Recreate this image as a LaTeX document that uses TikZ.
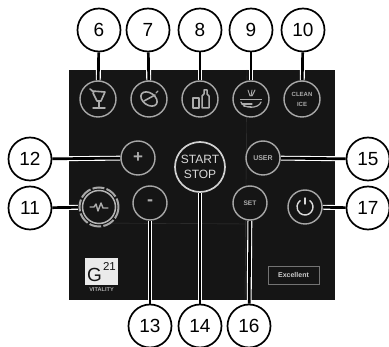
\documentclass[tikz,border=0pt]{standalone}
\usepackage{fontspec}
\setmainfont{Liberation Sans}
\pgfdeclarelayer{bgpanel}
\pgfdeclarelayer{leaders}
\pgfsetlayers{bgpanel,leaders,main}
\definecolor{panelc}{HTML}{151515}
\definecolor{ringc}{HTML}{A8A8A8}
\definecolor{iconc}{HTML}{ACACAC}
\definecolor{seamc}{HTML}{363636}
\tikzset{
  callout/.style={circle,draw=black,line width=1.7pt,fill=white,minimum size=43pt,inner sep=0pt,text=black,font=\fontsize{19}{20}\selectfont},
  btn/.style={circle,draw=ringc,line width=1.4pt,fill=panelc,minimum size=#1,inner sep=0pt,text=iconc,align=center},
  btn/.default=34pt,
  lead/.style={draw=white,double=black,line width=1.1pt,double distance=2.7pt},
  ico/.style={draw=iconc,line width=1.2pt,line cap=round,line join=round},
}
\begin{document}
\begin{tikzpicture}[x=1pt,y=-1pt]
\useasboundingbox (0,0) rectangle (389,347);
\begin{pgfonlayer}{bgpanel}
  \fill[white] (0,0) rectangle (389,347);
  \fill[panelc] (69,70) rectangle (335,300);
  \draw[seamc,line width=0.4pt] (247,70) -- (245,300);
  \draw[seamc,line width=0.4pt] (100,223) -- (246,224);
\end{pgfonlayer}

% callouts
\node[callout] (c6)  at (99,30) {6};
\node[callout] (c7)  at (148,30) {7};
\node[callout] (c8)  at (200,30) {8};
\node[callout] (c9)  at (251,30) {9};
\node[callout] (c10) at (303,30) {10};
\node[callout] (c12) at (30,159) {12};
\node[callout] (c11) at (30,208) {11};
\node[callout] (c13) at (150,326) {13};
\node[callout] (c14) at (200,326) {14};
\node[callout] (c16) at (249,326) {16};
\node[callout] (c15) at (368,159) {15};
\node[callout] (c17) at (368,208) {17};

% buttons
\node[btn=36pt] (b6)  at (98,99) {};
\node[btn=36pt] (b7)  at (149,99) {};
\node[btn=36pt] (b8)  at (200,99) {};
\node[btn=36pt] (b9)  at (251,99) {};
\node[btn=36pt,font=\fontsize{6}{10}\selectfont\bfseries] (b10) at (302,99) {CLEAN\\ICE};
\node[btn] (b12) at (138,158) {\fontsize{17}{17}\selectfont\bfseries +};
\node[btn=33pt,line width=1.5pt,draw=ringc!85!white] (b11core) at (99,207) {};
\node[circle,minimum size=42pt,inner sep=0pt] (b11) at (99,207) {};
\draw[ringc,line width=2pt,dash pattern=on 12pt off 2.2pt] (b11.center) circle[radius=19.5];
\node[btn] (b13) at (150,203) {\fontsize{18}{18}\selectfont\bfseries -};
\node[btn=50pt,draw=white!82!black,line width=1.7pt,text=white!85!black,font=\fontsize{12}{15}\selectfont] (b14) at (200,167) {START\\STOP};
\node[btn,font=\fontsize{7}{8}\selectfont\bfseries] (b15) at (263,158) {USER};
\node[btn,font=\fontsize{6.6}{8}\selectfont\bfseries] (b16) at (250,203) {SET};
\node[btn] (b17) at (305,207) {};

% leaders
\begin{pgfonlayer}{leaders}
  \draw[lead] (c6) -- (b6);
  \draw[lead] (c7) -- (b7);
  \draw[lead] (c8) -- (b8);
  \draw[lead] (c9) -- (b9);
  \draw[lead] (c10) -- (b10);
  \draw[lead] (c12) -- (b12);
  \draw[lead] (c11) -- (b11);
  \draw[lead] (c13) -- (b13);
  \draw[lead] (c14) -- (b14);
  \draw[lead] (c16) -- (b16);
  \draw[lead] (c15) -- (b15);
  \draw[lead] (c17) -- (b17);
\end{pgfonlayer}

% icons
\begin{scope}[shift={(b6.center)}]
  \draw[ico,line width=1.6pt] (-8,-10) -- (-4,-7) (-6,-8) -- (7,-7) -- (3,2) -- (-1,2) -- (-5,-6);
  \draw[ico,line width=1.5pt] (1,2) -- (1,8) (-5,9) -- (7,9);
\end{scope}
\begin{scope}[shift={(b7.center)}]
  \draw[ico,line width=1.6pt,rotate=-35] (0,0) ellipse[x radius=9,y radius=6];
  \draw[ico,line width=1.6pt] (-5,2) -- (6,-4);
  \draw[ico] (7,-6) -- (9,-8);
\end{scope}
\begin{scope}[shift={(b8.center)}]
  \draw[ico,line width=1.5pt] (-7,-1) rectangle (-1,9);
  \draw[ico,line width=1.5pt] (2,9) -- (2,-3) -- (4,-5) -- (4,-9) -- (7,-9) -- (7,-5) -- (9,-3) -- (9,9) -- cycle;
\end{scope}
\begin{scope}[shift={(b9.center)}]
  \fill[iconc] (-11,0) -- (11,0) -- (11,1.5) -- (-11,1.5) -- cycle;
  \draw[ico] (-10,3) .. controls (-8,10) and (8,10) .. (10,3);
  \draw[ico] (-9,5) -- (1,5) (-7,7.5) -- (0,7.5);
  \draw[ico,line width=0.9pt] (-3,-9) -- (-1,-3) (1,-9) -- (0,-3) (4,-9) -- (1,-3);
\end{scope}
\draw[ico,line width=1.4pt] (b11.center) ++(-9,0) -- ++(4,0) -- ++(2,-3) -- ++(2,7) -- ++(3,-8) -- ++(2,5) -- ++(5,0);
\begin{scope}[shift={(b17.center)}]
  \draw[ico,draw=white!85!black,line width=1.4pt] (-52:8) arc[start angle=-52,end angle=232,radius=8];
  \draw[ico,draw=white!85!black,line width=1.4pt] (0,-9) -- (0,-3);
\end{scope}

% logo
\fill[white!92!black] (85,258) rectangle (118,285);
\node[inner sep=0pt,text=panelc,font=\fontsize{19}{19}\selectfont] (logoG) at (94.5,275) {G};
\node[inner sep=0pt,text=panelc,font=\fontsize{11.5}{12}\selectfont] (logoN) at (109.5,266) {21};
\node[inner sep=0pt,text=iconc,font=\fontsize{5.6}{6}\selectfont\bfseries] (logoT) at (101.5,290) {VITALITY};

% rating
\node[draw=white!45!black,line width=0.9pt,minimum width=51pt,minimum height=18pt,inner sep=0pt,text=white!80!black,font=\fontsize{7}{8}\selectfont\bfseries] (rate) at (293.5,275) {Excellent};
\end{tikzpicture}
\end{document}
